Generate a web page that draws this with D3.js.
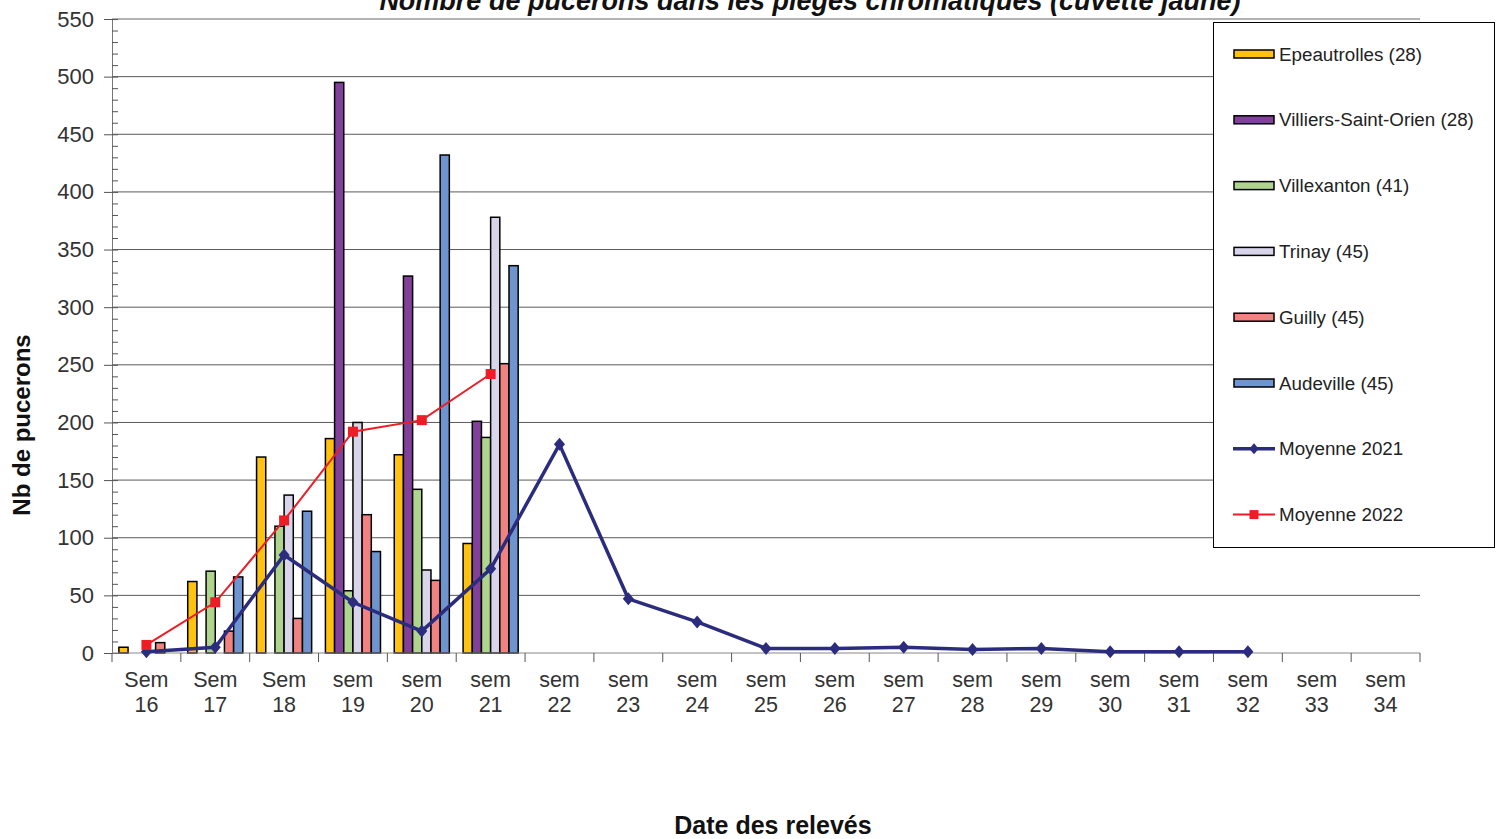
<!DOCTYPE html>
<html><head><meta charset="utf-8">
<script src="https://cdn.jsdelivr.net/npm/d3@7"></script>
<style>body{margin:0;background:#fff;} svg{display:block;font-family:"Liberation Sans",Arial,sans-serif;}</style>
</head><body><svg id="c" width="1502" height="839"></svg>
<script>
const weeks = ["16","17","18","19","20","21","22","23","24","25","26","27","28","29","30","31","32","33","34"];
const weekPrefix = ["Sem","Sem","Sem","sem","sem","sem","sem","sem","sem","sem","sem","sem","sem","sem","sem","sem","sem","sem","sem"];
const yTicks = [0,50,100,150,200,250,300,350,400,450,500,550];

const epeautrolles   = [5, 62, 170, 186, 172, 95, null,null,null,null,null,null,null,null,null,null,null,null,null];
const villiersSO     = [null, null, null, 495, 327, 201, null,null,null,null,null,null,null,null,null,null,null,null,null];
const villexanton    = [null, 71, 110, 54, 142, 187, null,null,null,null,null,null,null,null,null,null,null,null,null];
const trinay         = [null, 0, 137, 200, 72, 378, null,null,null,null,null,null,null,null,null,null,null,null,null];
const guilly         = [9, 19, 30, 120, 63, 251, null,null,null,null,null,null,null,null,null,null,null,null,null];
const audeville      = [null, 66, 123, 88, 432, 336, null,null,null,null,null,null,null,null,null,null,null,null,null];
const moyenne2021    = [1, 5, 85, 44, 19, 73, 181, 47, 27, 4, 4, 5, 3, 4, 1, 1, 1, null, null];
const moyenne2022    = [7, 44, 115, 192, 202, 242, null,null,null,null,null,null,null,null,null,null,null,null,null];

const barSeries = [
  {name:"Epeautrolles (28)", values:epeautrolles, color:"#FFC20E"},
  {name:"Villiers-Saint-Orien (28)", values:villiersSO, color:"#82409A"},
  {name:"Villexanton (41)", values:villexanton, color:"#AED48E"},
  {name:"Trinay (45)", values:trinay, color:"#D8D5EA"},
  {name:"Guilly (45)", values:guilly, color:"#F08282"},
  {name:"Audeville (45)", values:audeville, color:"#6F95D0"}
];
const lineSeries = [
  {name:"Moyenne 2021", values:moyenne2021, color:"#2B2C7E", marker:"diamond", width:3.5},
  {name:"Moyenne 2022", values:moyenne2022, color:"#EE1C25", marker:"square", width:2}
];

const svg = d3.select("#c");
const L = 112, R = 1420, T = 19, B = 653;
const x0 = d3.scaleBand().domain(weeks).range([L, R]).padding(0);
const x1 = d3.scaleBand().domain(barSeries.map(s=>s.name)).range([0, x0.bandwidth()]).paddingInner(0).paddingOuter(0.75);
const y = d3.scaleLinear().domain([0, 550]).range([B, T]);

// gridlines
svg.append("g").selectAll("line").data(yTicks.filter(d=>d>0)).join("line")
  .attr("x1", L).attr("x2", R).attr("y1", d=>y(d)).attr("y2", d=>y(d))
  .attr("stroke", d=>d===550?"#999":"#5a5a5a").attr("stroke-width", d=>d===550?1.5:1);

// bars
const gBars = svg.append("g");
barSeries.forEach(s=>{
  gBars.append("g").selectAll("rect")
    .data(weeks.map((w,i)=>({w, v:s.values[i]})).filter(d=>d.v!=null && d.v>0))
    .join("rect")
    .attr("x", d=>x0(d.w)+x1(s.name))
    .attr("width", x1.bandwidth())
    .attr("y", d=>y(d.v))
    .attr("height", d=>B - y(d.v))
    .attr("fill", s.color).attr("stroke", "#000").attr("stroke-width", 1.5);
});

// y axis
const yAxis = d3.axisLeft(y).tickValues(yTicks).tickSize(8).tickPadding(10);
const gy = svg.append("g").attr("transform", `translate(${L},0)`).call(yAxis);
gy.select(".domain").attr("stroke", "#777");
gy.selectAll(".tick line").attr("stroke", "#555");
gy.selectAll("text").attr("font-size", 22).attr("fill", "#333");
const minor = d3.range(0, 551, 10);
svg.append("g").attr("transform", `translate(${L},0)`).call(d3.axisRight(y).tickValues(minor).tickSize(6).tickFormat(""))
  .call(g=>{g.select(".domain").remove(); g.selectAll("line").attr("stroke","#555");});

// x axis
const gx = svg.append("g").attr("transform", `translate(0,${B})`);
gx.append("line").attr("x1", L).attr("x2", R).attr("stroke", "#888");
const bounds = weeks.map(w=>x0(w)).concat([R]);
gx.selectAll("line.t").data(bounds).join("line").attr("class","t")
  .attr("x1", d=>d).attr("x2", d=>d).attr("y1", 0).attr("y2", 9).attr("stroke", "#555");
const xl = gx.selectAll("text.lbl").data(weeks).join("text").attr("class","lbl")
  .attr("x", d=>x0(d)+x0.bandwidth()/2).attr("text-anchor","middle")
  .attr("font-size", 21.5).attr("fill", "#333");
xl.append("tspan").attr("x", d=>x0(d)+x0.bandwidth()/2).attr("y", 34).text((d,i)=>weekPrefix[i]);
xl.append("tspan").attr("x", d=>x0(d)+x0.bandwidth()/2).attr("y", 59).text(d=>d);

// lines
const cx = w => x0(w) + x0.bandwidth()/2;
function marker(g, type, color, cxv, cyv, size){
  if(type==="diamond"){
    const h = size/2;
    g.append("path").attr("d", `M${cxv},${cyv-h}L${cxv+h*0.85},${cyv}L${cxv},${cyv+h}L${cxv-h*0.85},${cyv}Z`).attr("fill", color);
  } else {
    g.append("rect").attr("x", cxv-size/2).attr("y", cyv-size/2).attr("width", size).attr("height", size).attr("fill", color);
  }
}
lineSeries.forEach(s=>{
  const pts = weeks.map((w,i)=>({w, v:s.values[i]})).filter(d=>d.v!=null);
  const line = d3.line().x(d=>cx(d.w)).y(d=>y(d.v));
  svg.append("path").datum(pts).attr("d", line).attr("fill","none").attr("stroke", s.color).attr("stroke-width", s.width);
  const g = svg.append("g");
  pts.forEach(p=>marker(g, s.marker, s.color, cx(p.w), y(p.v), s.marker==="diamond"?13:10));
});

// title
svg.append("text").attr("x", 810).attr("y", 10).attr("text-anchor","middle")
  .attr("font-size", 27).attr("font-weight","bold").attr("font-style","italic").attr("fill","#111")
  .text("Nombre de pucerons dans les pièges chromatiques (cuvette jaune)");

// axis titles
svg.append("text").attr("transform", "translate(30,425) rotate(-90)").attr("text-anchor","middle")
  .attr("font-size", 24).attr("font-weight","bold").attr("fill","#111").text("Nb de pucerons");
svg.append("text").attr("x", 773).attr("y", 834).attr("text-anchor","middle")
  .attr("font-size", 25).attr("font-weight","bold").attr("fill","#111").text("Date des relevés");

// legend
const lg = svg.append("g");
lg.append("rect").attr("x", 1213.5).attr("y", 22.5).attr("width", 281).attr("height", 525)
  .attr("fill","#fff").attr("stroke","#000").attr("stroke-width",1);
const legendItems = barSeries.map(s=>({name:s.name, color:s.color, kind:"bar"}))
  .concat(lineSeries.map(s=>({name:s.name, color:s.color, kind:"line", marker:s.marker, width:s.width})));
legendItems.forEach((d,i)=>{
  const cy = 54 + i*65.8;
  if(d.kind==="bar"){
    lg.append("rect").attr("x",1234).attr("y",cy-4).attr("width",40).attr("height",8)
      .attr("fill",d.color).attr("stroke","#000").attr("stroke-width",1.5);
  } else {
    lg.append("line").attr("x1",1233).attr("x2",1275).attr("y1",cy).attr("y2",cy).attr("stroke",d.color).attr("stroke-width",d.width);
    marker(lg, d.marker, d.color, 1254, cy, d.marker==="diamond"?11:9);
  }
  lg.append("text").attr("x",1279).attr("y",cy+6.5).attr("font-size",18.8).attr("fill","#222").text(d.name);
});
</script></body></html>
